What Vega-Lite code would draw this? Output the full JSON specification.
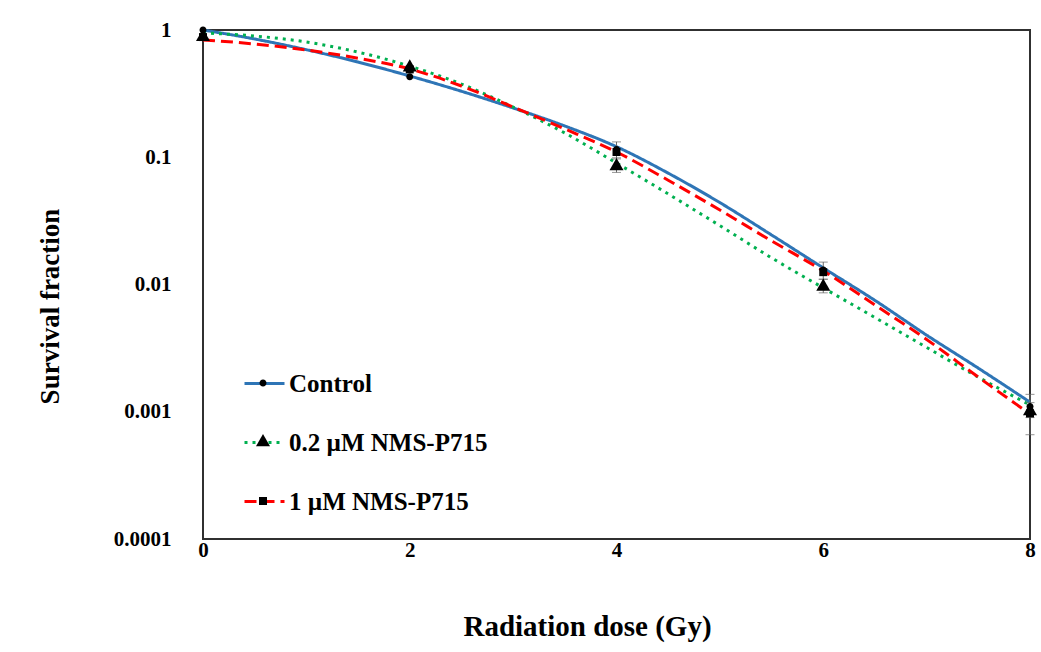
{
  "$schema": "https://vega.github.io/schema/vega-lite/v6.json",
  "width": 827,
  "height": 509,
  "autosize": {"type": "none"},
  "padding": {"left": 203, "top": 30, "right": 11, "bottom": 113},
  "background": "white",
  "config": {"view": {"stroke": "#303030", "strokeWidth": 2}, "font": "Liberation Serif"},
  "datasets": {
    "curves": [
      {"series": "Control", "dose": 0, "sf": 1.0},
      {"series": "Control", "dose": 0.5, "sf": 0.85},
      {"series": "Control", "dose": 1, "sf": 0.70},
      {"series": "Control", "dose": 1.5, "sf": 0.56},
      {"series": "Control", "dose": 2, "sf": 0.435},
      {"series": "Control", "dose": 2.5, "sf": 0.33},
      {"series": "Control", "dose": 3, "sf": 0.244},
      {"series": "Control", "dose": 3.5, "sf": 0.176},
      {"series": "Control", "dose": 4, "sf": 0.121},
      {"series": "Control", "dose": 4.5, "sf": 0.075},
      {"series": "Control", "dose": 5, "sf": 0.044},
      {"series": "Control", "dose": 5.5, "sf": 0.0245},
      {"series": "Control", "dose": 6, "sf": 0.0135},
      {"series": "Control", "dose": 6.5, "sf": 0.0075},
      {"series": "Control", "dose": 7, "sf": 0.0040},
      {"series": "Control", "dose": 7.5, "sf": 0.0022},
      {"series": "Control", "dose": 8, "sf": 0.00119},
      {"series": "0.2 µM NMS-P715", "dose": 0, "sf": 0.947},
      {"series": "0.2 µM NMS-P715", "dose": 0.5, "sf": 0.897},
      {"series": "0.2 µM NMS-P715", "dose": 1, "sf": 0.805},
      {"series": "0.2 µM NMS-P715", "dose": 1.5, "sf": 0.67},
      {"series": "0.2 µM NMS-P715", "dose": 2, "sf": 0.52},
      {"series": "0.2 µM NMS-P715", "dose": 2.5, "sf": 0.376},
      {"series": "0.2 µM NMS-P715", "dose": 3, "sf": 0.248},
      {"series": "0.2 µM NMS-P715", "dose": 3.5, "sf": 0.155},
      {"series": "0.2 µM NMS-P715", "dose": 4, "sf": 0.090},
      {"series": "0.2 µM NMS-P715", "dose": 4.5, "sf": 0.0515},
      {"series": "0.2 µM NMS-P715", "dose": 5, "sf": 0.029},
      {"series": "0.2 µM NMS-P715", "dose": 5.5, "sf": 0.0162},
      {"series": "0.2 µM NMS-P715", "dose": 6, "sf": 0.0094},
      {"series": "0.2 µM NMS-P715", "dose": 6.5, "sf": 0.0055},
      {"series": "0.2 µM NMS-P715", "dose": 7, "sf": 0.0032},
      {"series": "0.2 µM NMS-P715", "dose": 7.5, "sf": 0.00187},
      {"series": "0.2 µM NMS-P715", "dose": 8, "sf": 0.00113},
      {"series": "1 µM NMS-P715", "dose": 0, "sf": 0.835},
      {"series": "1 µM NMS-P715", "dose": 0.5, "sf": 0.776},
      {"series": "1 µM NMS-P715", "dose": 1, "sf": 0.696},
      {"series": "1 µM NMS-P715", "dose": 1.5, "sf": 0.60},
      {"series": "1 µM NMS-P715", "dose": 2, "sf": 0.494},
      {"series": "1 µM NMS-P715", "dose": 2.5, "sf": 0.363},
      {"series": "1 µM NMS-P715", "dose": 3, "sf": 0.248},
      {"series": "1 µM NMS-P715", "dose": 3.5, "sf": 0.167},
      {"series": "1 µM NMS-P715", "dose": 4, "sf": 0.110},
      {"series": "1 µM NMS-P715", "dose": 4.5, "sf": 0.066},
      {"series": "1 µM NMS-P715", "dose": 5, "sf": 0.0385},
      {"series": "1 µM NMS-P715", "dose": 5.5, "sf": 0.0220},
      {"series": "1 µM NMS-P715", "dose": 6, "sf": 0.0128},
      {"series": "1 µM NMS-P715", "dose": 6.5, "sf": 0.0069},
      {"series": "1 µM NMS-P715", "dose": 7, "sf": 0.0037},
      {"series": "1 µM NMS-P715", "dose": 7.5, "sf": 0.00187},
      {"series": "1 µM NMS-P715", "dose": 8, "sf": 0.00096}
    ],
    "points": [
      {"grp": "Control", "dose": 0, "sf": 1.0},
      {"grp": "Control", "dose": 2, "sf": 0.43},
      {"grp": "Control", "dose": 4, "sf": 0.115},
      {"grp": "Control", "dose": 6, "sf": 0.013},
      {"grp": "Control", "dose": 8, "sf": 0.0011},
      {"grp": "0.2 µM NMS-P715", "dose": 0, "sf": 0.9},
      {"grp": "0.2 µM NMS-P715", "dose": 2, "sf": 0.52},
      {"grp": "0.2 µM NMS-P715", "dose": 4, "sf": 0.087},
      {"grp": "0.2 µM NMS-P715", "dose": 6, "sf": 0.0098},
      {"grp": "0.2 µM NMS-P715", "dose": 8, "sf": 0.00103},
      {"grp": "1 µM NMS-P715", "dose": 0, "sf": 0.88},
      {"grp": "1 µM NMS-P715", "dose": 2, "sf": 0.49},
      {"grp": "1 µM NMS-P715", "dose": 4, "sf": 0.11},
      {"grp": "1 µM NMS-P715", "dose": 6, "sf": 0.0125},
      {"grp": "1 µM NMS-P715", "dose": 8, "sf": 0.00097}
    ],
    "errors": [
      {"grp": "1 µM NMS-P715", "dose": 4, "lo": 0.097, "hi": 0.132},
      {"grp": "1 µM NMS-P715", "dose": 6, "lo": 0.011, "hi": 0.015},
      {"grp": "1 µM NMS-P715", "dose": 8, "lo": 0.00066, "hi": 0.00137},
      {"grp": "0.2 µM NMS-P715", "dose": 4, "lo": 0.076, "hi": 0.099},
      {"grp": "0.2 µM NMS-P715", "dose": 6, "lo": 0.0086, "hi": 0.011},
      {"grp": "0.2 µM NMS-P715", "dose": 8, "lo": 0.0009, "hi": 0.00118}
    ]
  },
  "layer": [
    {
      "data": {"name": "curves"},
      "mark": {"type": "line", "interpolate": "monotone", "strokeWidth": 3, "strokeCap": "butt"},
      "encoding": {
        "x": {
          "field": "dose", "type": "quantitative",
          "scale": {"domain": [0, 8], "nice": false},
          "axis": {
            "title": "Radiation dose (Gy)", "values": [0, 2, 4, 6, 8], "format": "d",
            "grid": false, "ticks": false, "domain": false, "labelFlush": false,
            "labelFont": "Liberation Serif", "labelFontWeight": "bold", "labelFontSize": 21, "labelColor": "black", "labelPadding": 0,
            "titleFont": "Liberation Serif", "titleFontWeight": "bold", "titleFontSize": 29, "titleColor": "black", "titlePadding": 52,
            "titleX": 384
          }
        },
        "y": {
          "field": "sf", "type": "quantitative",
          "scale": {"type": "log", "domain": [0.0001, 1], "nice": false},
          "axis": {
            "title": "Survival fraction", "values": [1, 0.1, 0.01, 0.001, 0.0001], "format": "~g",
            "grid": false, "ticks": false, "domain": false, "labelOverlap": false,
            "labelFont": "Liberation Serif", "labelFontWeight": "bold", "labelFontSize": 21, "labelColor": "black", "labelPadding": 32,
            "titleFont": "Liberation Serif", "titleFontWeight": "bold", "titleFontSize": 27, "titleColor": "black", "titlePadding": 49,
            "titleY": 276
          }
        },
        "color": {
          "field": "series", "type": "nominal",
          "scale": {"domain": ["Control", "0.2 µM NMS-P715", "1 µM NMS-P715"], "range": ["#2E75B6", "#00B050", "#FF0000"]},
          "legend": {
            "title": null, "orient": "none", "legendX": 40, "legendY": 332, "padding": 0,
            "labelFont": "Liberation Serif", "labelFontWeight": "bold", "labelFontSize": 25, "labelColor": "black", "labelLimit": 400,
            "symbolType": "stroke", "symbolSize": 1600, "symbolStrokeWidth": 3, "labelOffset": 3, "rowPadding": 24
          }
        },
        "strokeDash": {
          "field": "series", "type": "nominal",
          "scale": {"domain": ["Control", "0.2 µM NMS-P715", "1 µM NMS-P715"], "range": [[1, 0], [3, 5], [12, 6]]},
          "legend": {
            "title": null, "orient": "none", "legendX": 40, "legendY": 332, "padding": 0,
            "labelFont": "Liberation Serif", "labelFontWeight": "bold", "labelFontSize": 25, "labelColor": "black", "labelLimit": 400,
            "symbolType": "stroke", "symbolSize": 1600, "symbolStrokeWidth": 3, "labelOffset": 3, "rowPadding": 24
          }
        }
      }
    },
    {
      "data": {"name": "errors"},
      "mark": {"type": "rule", "color": "#666666", "strokeWidth": 1},
      "encoding": {
        "x": {"field": "dose", "type": "quantitative"},
        "y": {"field": "lo", "type": "quantitative"},
        "y2": {"field": "hi"}
      }
    },
    {
      "data": {"name": "errors"},
      "mark": {"type": "tick", "orient": "horizontal", "color": "#666666", "thickness": 1, "size": 9},
      "encoding": {
        "x": {"field": "dose", "type": "quantitative"},
        "y": {"field": "lo", "type": "quantitative"}
      }
    },
    {
      "data": {"name": "errors"},
      "mark": {"type": "tick", "orient": "horizontal", "color": "#666666", "thickness": 1, "size": 9},
      "encoding": {
        "x": {"field": "dose", "type": "quantitative"},
        "y": {"field": "hi", "type": "quantitative"}
      }
    },
    {
      "data": {"name": "points"},
      "mark": {"type": "point", "filled": true, "color": "black", "opacity": 1, "size": 196, "strokeWidth": 0},
      "encoding": {
        "x": {"field": "dose", "type": "quantitative"},
        "y": {"field": "sf", "type": "quantitative"},
        "shape": {
          "field": "grp", "type": "nominal",
          "sort": ["Control", "0.2 µM NMS-P715", "1 µM NMS-P715"],
          "scale": {"range": [
            "M-0.5,0A0.5,0.5,0,1,1,0.5,0A0.5,0.5,0,1,1,-0.5,0Z",
            "M0,-1L1,0.75L-1,0.75Z",
            "M-0.57,-0.57H0.57V0.57H-0.57Z"
          ]},
          "legend": {
            "title": null, "orient": "none", "legendX": 53, "legendY": 346, "padding": 0,
            "symbolSize": 196, "symbolFillColor": "black", "symbolStrokeWidth": 0,
            "labelExpr": "''", "labelFontSize": 1, "labelOffset": 0, "rowPadding": 47
          }
        }
      }
    }
  ]
}
